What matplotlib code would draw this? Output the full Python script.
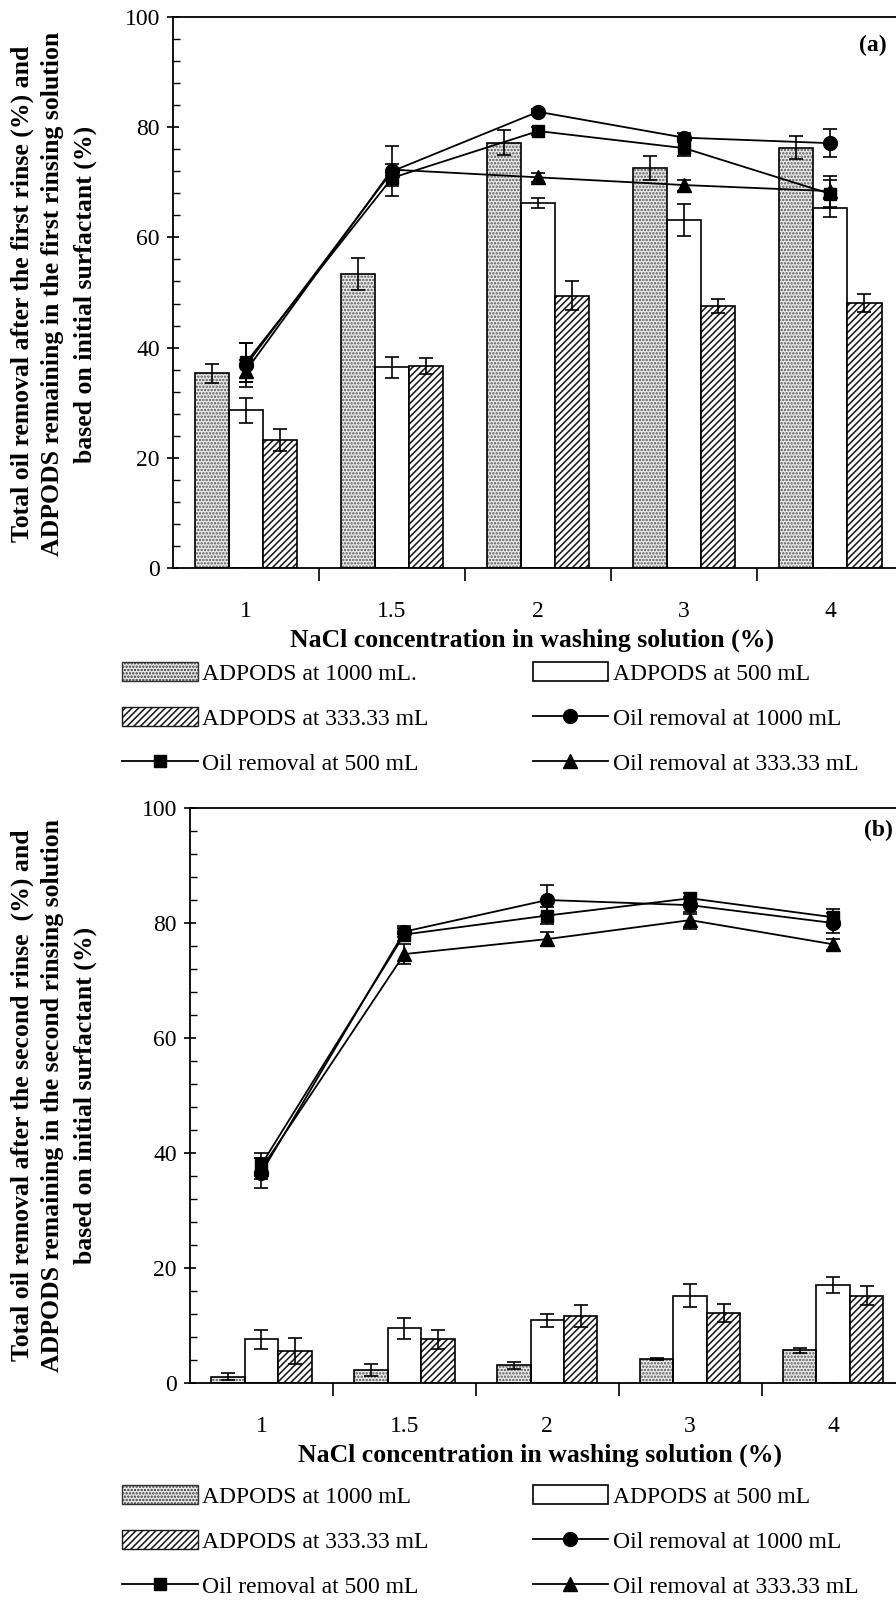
import matplotlib
matplotlib.use("Agg")
import matplotlib.pyplot as plt
import numpy as np
from matplotlib.patches import Patch
from matplotlib.lines import Line2D
from matplotlib.ticker import MultipleLocator, FixedLocator

plt.rcParams['font.family'] = ['Liberation Serif', 'DejaVu Serif']
plt.rcParams['hatch.linewidth'] = 1.15

categories = ['1', '1.5', '2', '3', '4']

# Panel (a): first rinse
a_ads_1000 = [35.3, 53.3, 77.2, 72.6, 76.3]
a_ads_1000_err = [1.8, 2.9, 2.3, 2.1, 2.1]
a_ads_500 = [28.6, 36.4, 66.2, 63.1, 65.3]
a_ads_500_err = [2.3, 1.9, 0.9, 2.9, 1.6]
a_ads_333 = [23.2, 36.7, 49.4, 47.6, 48.1]
a_ads_333_err = [2.0, 1.5, 2.6, 1.3, 1.6]
a_oil_1000 = [36.8, 72.0, 82.8, 78.1, 77.1]
a_oil_1000_err = [4.0, 4.5, 0.5, 0.8, 2.5]
a_oil_500 = [37.3, 70.8, 79.3, 76.2, 67.9]
a_oil_500_err = [3.5, 1.5, 0.8, 1.5, 2.5]
a_oil_333 = [35.8, 72.3, 70.9, 69.5, 68.4]
a_oil_333_err = [2.0, 1.0, 0.8, 1.0, 2.8]

# Panel (b): second rinse
b_ads_1000 = [1.1, 2.3, 3.1, 4.2, 5.7]
b_ads_1000_err = [0.6, 1.0, 0.6, 0.2, 0.4]
b_ads_500 = [7.6, 9.5, 10.9, 15.2, 17.0]
b_ads_500_err = [1.6, 1.8, 1.1, 2.0, 1.4]
b_ads_333 = [5.6, 7.6, 11.6, 12.2, 15.2]
b_ads_333_err = [2.3, 1.6, 1.9, 1.6, 1.6]
b_oil_1000 = [36.6, 78.5, 84.0, 83.1, 80.0]
b_oil_1000_err = [2.6, 1.0, 2.6, 1.5, 1.8]
b_oil_500 = [38.0, 78.0, 81.3, 84.3, 81.0]
b_oil_500_err = [2.0, 1.2, 1.5, 1.0, 1.5]
b_oil_333 = [37.3, 74.6, 77.2, 80.5, 76.3]
b_oil_333_err = [1.8, 1.8, 1.2, 1.5, 1.0]

W, H = 896, 1603
fig = plt.figure(figsize=(W / 100, H / 100), dpi=100)

def axes_px(left, top, right, bottom):
    return fig.add_axes([left / W, 1 - bottom / H, (right - left) / W, (bottom - top) / H])

ax_a = axes_px(173, 17, 896, 568)
ax_b = axes_px(190, 808, 896, 1383)

bw = 0.234
dot_face = '#e9e9e9'
dot_hatch = '#555555'

def draw_panel(ax, xlim, d1000, e1000, d500, e500, d333, e333,
               o1000, oe1000, o500, oe500, o333, oe333):
    x = np.arange(len(categories))
    ax.bar(x - bw, d1000, bw, color=dot_face, edgecolor=dot_hatch, hatch='.....',
           linewidth=0, zorder=2)
    ax.bar(x - bw, d1000, bw, fill=False, edgecolor='black', linewidth=1.2, zorder=3)
    ax.bar(x, d500, bw, color='white', edgecolor='black', linewidth=1.2, zorder=2)
    ax.bar(x + bw, d333, bw, color='white', edgecolor='#1a1a1a', hatch='/////',
           linewidth=0, zorder=2)
    ax.bar(x + bw, d333, bw, fill=False, edgecolor='black', linewidth=1.2, zorder=3)
    ekw = dict(fmt='none', ecolor='black', elinewidth=1.2, capsize=5, capthick=1.2, zorder=4)
    ax.errorbar(x - bw, d1000, yerr=e1000, **ekw)
    ax.errorbar(x, d500, yerr=e500, **ekw)
    ax.errorbar(x + bw, d333, yerr=e333, **ekw)
    lkw = dict(color='black', linewidth=1.3, ecolor='black', elinewidth=1.2,
               capsize=5, capthick=1.2, zorder=6)
    ax.errorbar(x, o333, yerr=oe333, marker='^', markersize=10.5, **lkw)
    ax.errorbar(x, o500, yerr=oe500, marker='s', markersize=9, **lkw)
    ax.errorbar(x, o1000, yerr=oe1000, marker='o', markersize=10, **lkw)

    ax.set_xlim(*xlim)
    ax.set_ylim(0, 100)
    ax.spines['right'].set_visible(False)
    for s in ['left', 'bottom', 'top']:
        ax.spines[s].set_linewidth(1.3)
    ax.yaxis.set_major_locator(MultipleLocator(20))
    ax.yaxis.set_minor_locator(MultipleLocator(4))
    ax.set_xticks(x)
    ax.set_xticklabels(categories)
    ax.xaxis.set_minor_locator(FixedLocator([0.5, 1.5, 2.5, 3.5]))
    ax.tick_params(axis='y', which='major', direction='inout', length=9, width=1.2,
                   labelsize=17, pad=5)
    ax.tick_params(axis='y', which='minor', direction='in', length=5, width=1.0)
    ax.tick_params(axis='x', which='major', direction='in', length=6, width=1.0,
                   labelsize=17, pad=24)
    ax.tick_params(axis='x', which='minor', direction='out', length=9, width=1.2)

draw_panel(ax_a, (-0.5, 4.45), a_ads_1000, a_ads_1000_err, a_ads_500, a_ads_500_err,
           a_ads_333, a_ads_333_err, a_oil_1000, a_oil_1000_err,
           a_oil_500, a_oil_500_err, a_oil_333, a_oil_333_err)
draw_panel(ax_b, (-0.5, 4.44), b_ads_1000, b_ads_1000_err, b_ads_500, b_ads_500_err,
           b_ads_333, b_ads_333_err, b_oil_1000, b_oil_1000_err,
           b_oil_500, b_oil_500_err, b_oil_333, b_oil_333_err)

def ftext(xp, yp, s, **kw):
    fig.text(xp / W, 1 - yp / H, s, **kw)

# panel tags
ftext(873, 45, '(a)', fontsize=17, fontweight='bold', ha='center', va='center')
ftext(878, 830, '(b)', fontsize=17, fontweight='bold', ha='center', va='center')

# x labels
ftext(532, 640, 'NaCl concentration in washing solution (%)', fontsize=18.5,
      fontweight='bold', ha='center', va='center')
ftext(540, 1455, 'NaCl concentration in washing solution (%)', fontsize=18.5,
      fontweight='bold', ha='center', va='center')

# y labels
ya = ['Total oil removal after the first rinse (%) and',
      'ADPODS remaining in the first rinsing solution',
      'based on initial surfactant (%)']
yb = ['Total oil removal after the second rinse  (%) and',
      'ADPODS remaining in the second rinsing solution',
      'based on initial surfactant (%)']
for i, xp in enumerate([22, 53, 85]):
    ftext(xp, 294, ya[i], fontsize=18.5, fontweight='bold', rotation=90,
          ha='center', va='center')
    ftext(xp, 1095, yb[i], fontsize=18.5, fontweight='bold', rotation=90,
          ha='center', va='center')

# legends
def handles():
    h1 = Patch(facecolor=dot_face, edgecolor='#333333', hatch='.....', linewidth=1.0)
    h2 = Patch(facecolor='white', edgecolor='black', linewidth=1.2)
    h3 = Patch(facecolor='white', edgecolor='#1a1a1a', hatch='/////', linewidth=1.0)
    h4 = Line2D([], [], color='black', marker='o', markersize=10, linewidth=1.3)
    h5 = Line2D([], [], color='black', marker='s', markersize=9, linewidth=1.3)
    h6 = Line2D([], [], color='black', marker='^', markersize=10, linewidth=1.3)
    return [h1, h3, h5, h2, h4, h6]

labels_a = ['ADPODS at 1000 mL.', 'ADPODS at 333.33 mL', 'Oil removal at 500 mL',
            'ADPODS at 500 mL', 'Oil removal at 1000 mL', 'Oil removal at 333.33 mL']
labels_b = ['ADPODS at 1000 mL', 'ADPODS at 333.33 mL', 'Oil removal at 500 mL',
            'ADPODS at 500 mL', 'Oil removal at 1000 mL', 'Oil removal at 333.33 mL']

for labs, top in [(labels_a, 662), (labels_b, 1485)]:
    fig.legend(handles(), labs, loc='upper left', bbox_to_anchor=(122 / W, 1 - top / H),
               ncol=2, frameon=False, fontsize=17, handlelength=3.2, handleheight=0.85,
               handletextpad=0.2, columnspacing=4.4, labelspacing=0.95,
               borderaxespad=0, borderpad=0)

fig.savefig('out.png', dpi=100)
